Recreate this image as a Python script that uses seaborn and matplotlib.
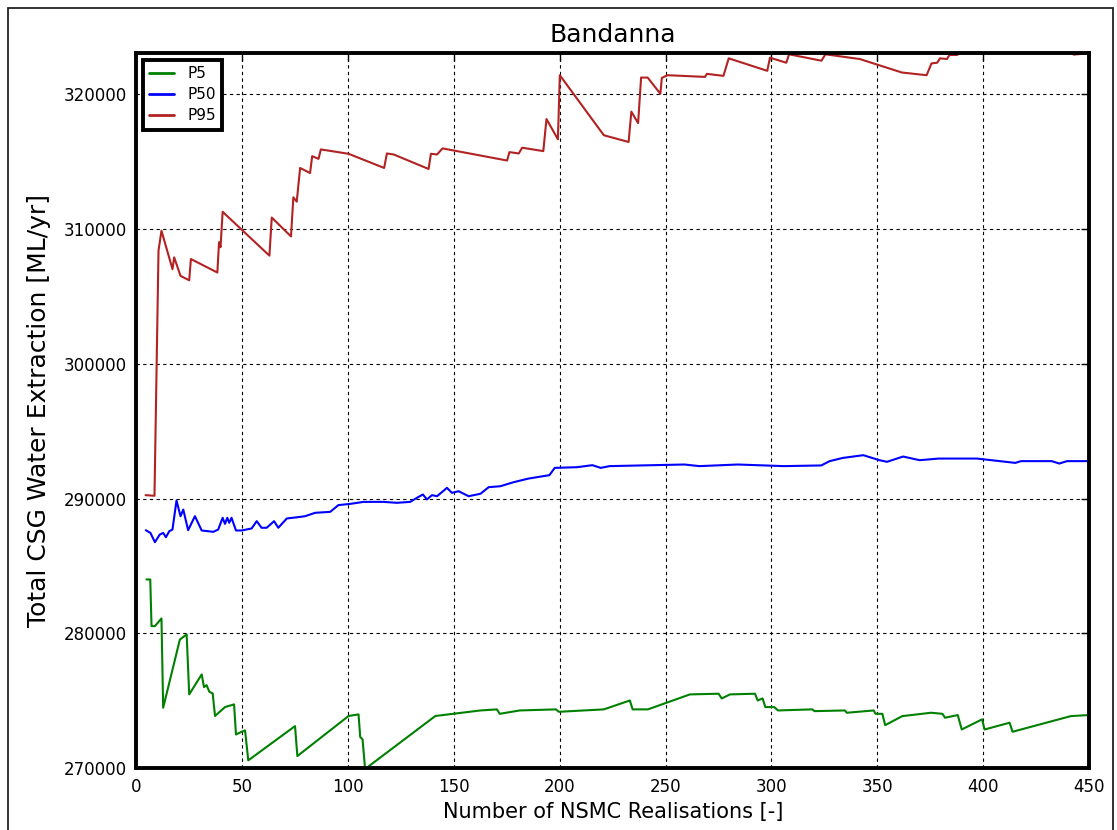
import matplotlib
matplotlib.use("Agg")
import matplotlib.pyplot as plt
import numpy as np
import pandas as pd
import seaborn as sns
from matplotlib.patches import Rectangle

# Running percentiles of total CSG water extraction vs. number of NSMC realisations
p5_n = [4.7, 6.5, 7.1, 8.7, 11.8, 12.6, 20.5, 23.7, 24.9, 30.8, 31.9, 33.1, 34.4, 36.0,
        37.1, 41.8, 46.1, 47.0, 49.7, 51.3, 52.8, 74.9, 76.0, 100.2, 104.9, 105.7, 106.8,
        108.0, 141.2, 162.5, 170.3, 171.6, 181.0, 198.2, 199.5, 220.8, 233.1, 234.4, 241.6,
        261.5, 275.0, 276.5, 280.4, 292.2, 293.5, 295.8, 297.1, 301.3, 303.1, 319.3, 320.3,
        334.7, 335.6, 348.3, 349.2, 352.4, 353.7, 361.8, 375.4, 380.8, 382.0, 388.0, 389.9,
        399.5, 400.7, 412.5, 413.9, 441.4, 450.0]
p5_val = [284000, 284000, 280540, 280540, 281110, 274490, 279550, 279920, 275480, 276960,
          276020, 276170, 275680, 275550, 273880, 274540, 274740, 272510, 272710, 272810,
          270590, 273130, 270910, 273880, 274000, 272320, 272150, 269950, 273880, 274290,
          274370, 274040, 274290, 274370, 274190, 274370, 275030, 274370, 274370, 275480,
          275530, 275180, 275480, 275530, 275030, 275180, 274540, 274540, 274290, 274370,
          274240, 274290, 274120, 274290, 274040, 274040, 273200, 273870, 274120, 274040,
          273750, 273950, 272880, 273630, 272880, 273380, 272710, 273870, 273950]

p50_n = [4.4, 6.6, 8.7, 11.0, 12.6, 13.9, 15.5, 17.0, 18.9, 20.8, 22.1, 24.4, 27.6, 30.8,
         36.3, 38.6, 40.7, 41.8, 42.9, 43.8, 44.9, 47.0, 49.7, 54.4, 56.8, 59.1, 61.5, 65.0,
         67.0, 71.0, 76.5, 79.7, 84.4, 91.5, 95.4, 100.9, 107.3, 116.7, 123.0, 129.3, 132.5,
         135.3, 137.2, 139.6, 142.0, 146.7, 149.0, 152.2, 156.9, 162.5, 166.4, 171.9, 178.2,
         185.3, 190.0, 195.1, 197.6, 208.1, 215.4, 219.3, 223.5, 258.8, 266.0, 284.1, 305.8,
         323.5, 327.5, 333.8, 343.4, 351.0, 354.6, 362.2, 370.0, 379.0, 397.1, 415.2, 417.9,
         432.4, 436.0, 439.6, 449.5]
p50_val = [287650, 287450, 286760, 287330, 287450, 287130, 287580, 287700, 289850, 288690,
           289180, 287650, 288690, 287630, 287530, 287700, 288570, 288120, 288570, 288200,
           288570, 287630, 287630, 287780, 288320, 287830, 287830, 288320, 287830, 288520,
           288620, 288690, 288940, 289010, 289510, 289600, 289750, 289750, 289680, 289750,
           290050, 290300, 289930, 290250, 290170, 290790, 290420, 290540, 290170, 290350,
           290840, 290910, 291210, 291480, 291600, 291730, 292270, 292320, 292470, 292270,
           292400, 292520, 292400, 292520, 292400, 292450, 292770, 293010, 293210, 292840,
           292720, 293110, 292840, 292960, 292960, 292640, 292770, 292770, 292590, 292770,
           292770]

p95_n = [4.3, 8.5, 10.4, 11.8, 17.0, 17.8, 20.8, 24.9, 25.7, 38.2, 39.0, 39.7, 40.7, 62.8,
         63.9, 73.0, 74.1, 75.7, 77.3, 82.0, 83.0, 86.0, 87.1, 100.2, 117.0, 118.3, 121.5,
         138.0, 139.1, 142.0, 144.6, 175.1, 176.2, 180.6, 182.2, 192.2, 193.7, 199.1, 200.0,
         220.8, 232.5, 233.8, 237.0, 238.4, 241.5, 247.5, 248.2, 250.9, 268.6, 269.5, 277.3,
         279.8, 298.0, 299.3, 307.0, 308.3, 323.6, 325.5, 341.7, 361.6, 373.3, 375.6, 378.3,
         379.6, 382.9, 384.1, 387.7, 390.5, 410.0, 425.0, 441.0, 442.8, 449.0]
p95_val = [290250, 290200, 308375, 309850, 307000, 307875, 306500, 306175, 307750, 306750,
           309000, 308625, 311250, 308000, 310825, 309425, 312325, 312000, 314500, 314125,
           315375, 315175, 315875, 315550, 314500, 315575, 315500, 314425, 315550, 315500,
           315950, 315050, 315675, 315575, 316000, 315750, 318125, 316625, 321375, 316925,
           316425, 318675, 317825, 321200, 321200, 320000, 321175, 321375, 321250, 321475,
           321325, 322625, 321700, 322675, 322300, 322925, 322450, 322925, 322575, 321575,
           321375, 322250, 322300, 322625, 322575, 322875, 322875, 323200, 323500, 323300,
           323100, 322900, 323000]

series_names = ["P5", "P50", "P95"]
series_colors = ["#008000", "#0000ff", "#b22222"]
x_ticks = [0, 50, 100, 150, 200, 250, 300, 350, 400, 450]
y_ticks = [270000, 280000, 290000, 300000, 310000, 320000]

df = pd.concat([
    pd.DataFrame({"n": p5_n, "value": p5_val, "series": "P5"}),
    pd.DataFrame({"n": p50_n, "value": p50_val, "series": "P50"}),
    pd.DataFrame({"n": p95_n, "value": p95_val, "series": "P95"}),
], ignore_index=True)

sns.set_style("white")
plt.rcParams["font.family"] = ["DejaVu Sans"]
plt.rcParams["text.color"] = "black"
plt.rcParams["axes.labelcolor"] = "black"
plt.rcParams["xtick.color"] = "black"
plt.rcParams["ytick.color"] = "black"

fig = plt.figure(figsize=(11.17, 8.30), dpi=100)
ax = fig.add_axes([0.1222, 0.0743, 0.8527, 0.8615])

sns.lineplot(data=df, x="n", y="value", hue="series", hue_order=series_names,
             palette=dict(zip(series_names, series_colors)), estimator=None,
             sort=False, linewidth=1.5, ax=ax, zorder=3)

ax.set_xlim(0, 450)
ax.set_ylim(270000, 323000)
ax.set_xticks(x_ticks)
ax.set_yticks(y_ticks)
ax.ticklabel_format(axis="y", style="plain", useOffset=False)
ax.grid(True, color="black", linestyle=(0, (3, 3)), linewidth=0.8, zorder=1)
ax.tick_params(direction="in", length=6, width=1, top=True, right=True,
               labelsize=12, pad=7, colors="black")
for sp in ax.spines.values():
    sp.set_linewidth(2.8)
    sp.set_color("black")
    sp.set_zorder(4)

ax.set_title("Bandanna", fontsize=18, pad=8, color="black")
ax.set_xlabel("Number of NSMC Realisations [-]", fontsize=15, labelpad=4)
ax.set_ylabel("Total CSG Water Extraction [ML/yr]", fontsize=18, labelpad=9)

leg = ax.legend(loc="upper left", fontsize=11, fancybox=False, framealpha=1,
                edgecolor="black", borderaxespad=0.45, handlelength=1.6,
                handletextpad=0.9, labelspacing=0.4, title=None)
leg.get_frame().set_linewidth(2.8)
for h in leg.get_lines():
    h.set_linewidth(2.0)
for t in leg.get_texts():
    t.set_color("black")

# thin frame around the whole figure
fig.patches.append(Rectangle((8 / 1117, -0.05), 1105 / 1117, 1.05 - 8 / 830,
                             transform=fig.transFigure, fill=False,
                             edgecolor="#222222", linewidth=1.3))

fig.savefig("out.png", dpi=100)
